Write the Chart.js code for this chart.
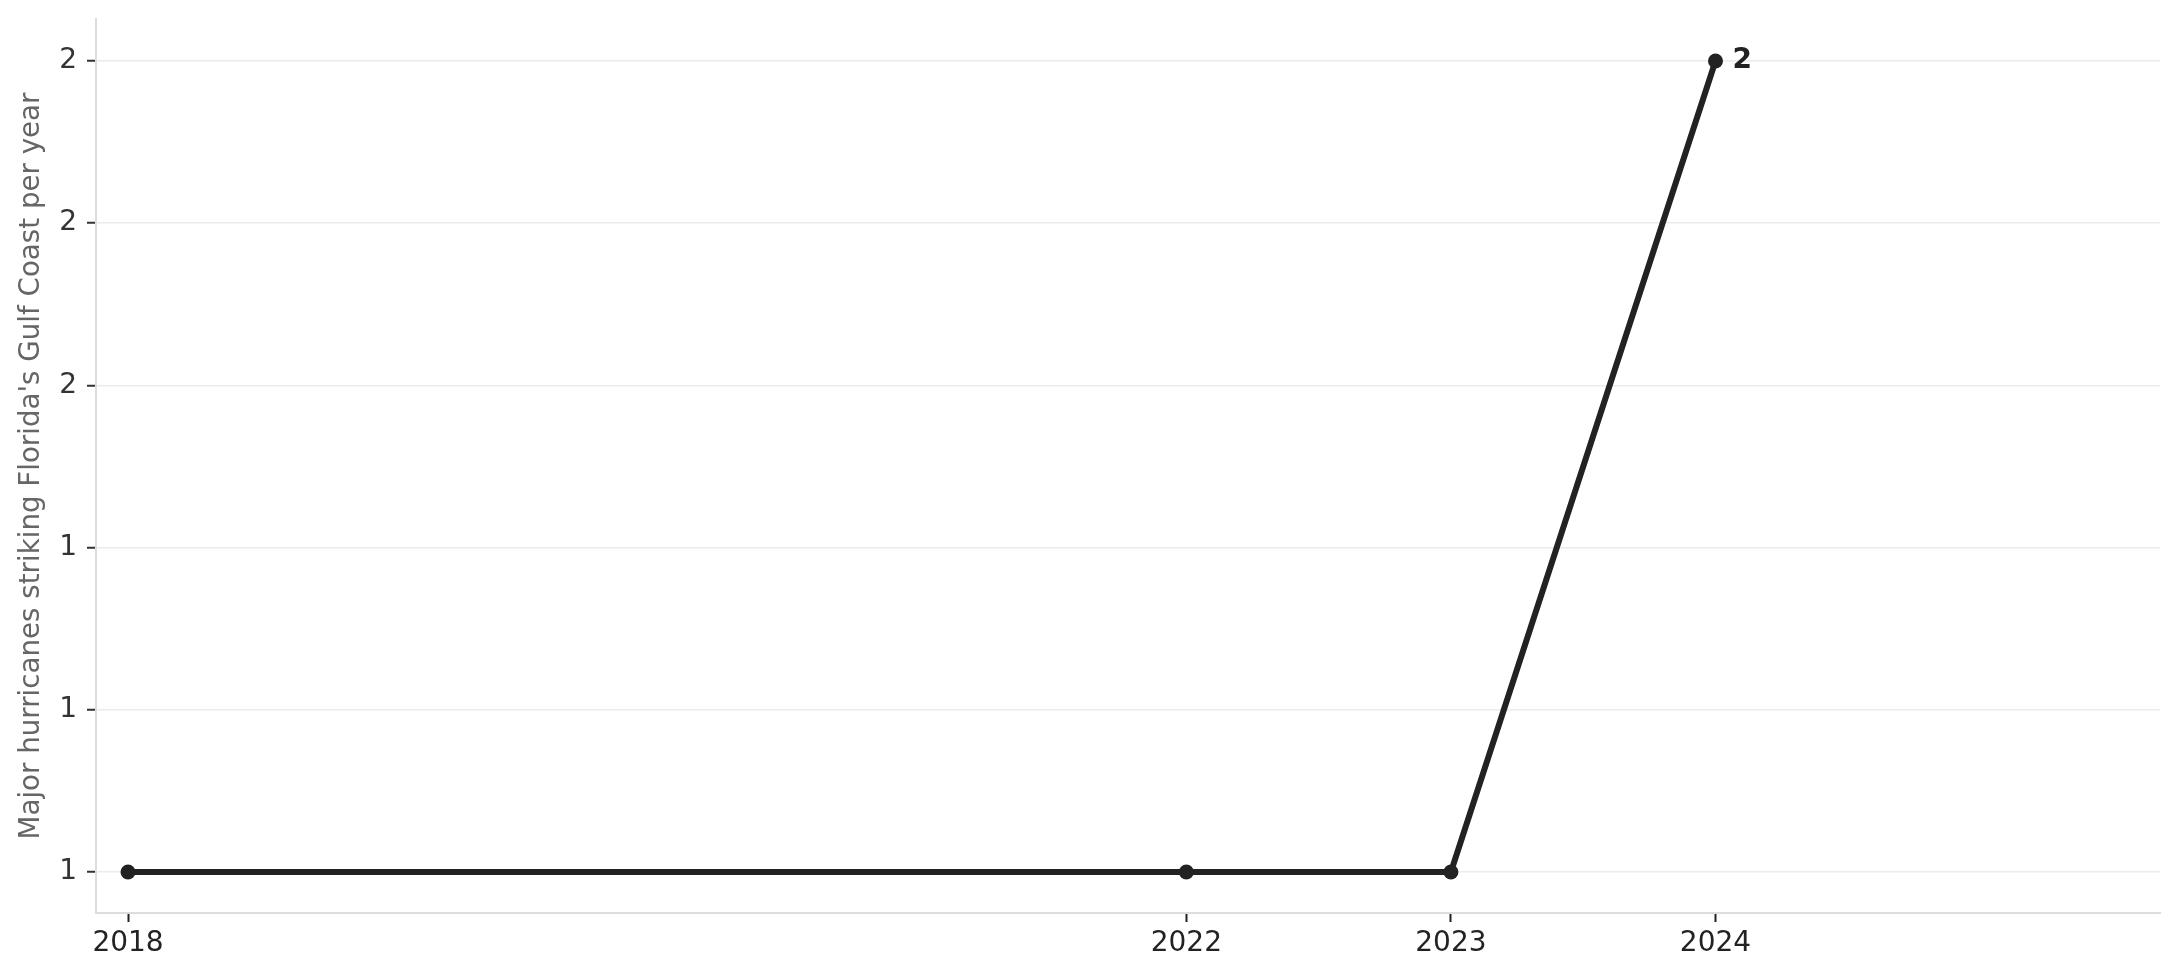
<!DOCTYPE html>
<html>
<head>
<meta charset="utf-8">
<script src="https://cdn.jsdelivr.net/npm/chart.js@4/dist/chart.umd.min.js"></script>
<style>
html,body{margin:0;padding:0;background:#fff;}
#wrap{width:2179px;height:980px;position:relative;}
</style>
</head>
<body>
<div id="wrap"><canvas id="c" width="2179" height="980"></canvas></div>
<script>
const years = [2018, 2022, 2023, 2024];
const hurricanes = [1, 1, 1, 2];
const xTickValues = [2018, 2022, 2023, 2024];
const yTickValues = [1, 1.2, 1.4, 1.6, 1.8, 2];
const yAxisTitle = "Major hurricanes striking Florida's Gulf Coast per year";
const labelledIndex = 3;

const FONT = "'DejaVu Sans', sans-serif";

const endLabel = {
  id: 'endLabel',
  afterDatasetsDraw(chart) {
    const meta = chart.getDatasetMeta(0);
    const pt = meta.data[labelledIndex];
    const ctx = chart.ctx;
    ctx.save();
    ctx.font = "bold 28px " + FONT;
    ctx.fillStyle = '#222222';
    ctx.textAlign = 'left';
    ctx.textBaseline = 'middle';
    ctx.fillText(String(hurricanes[labelledIndex]), pt.x + 17, pt.y);
    ctx.restore();
  }
};

function noPad(scale) {
  scale.paddingTop = 0; scale.paddingBottom = 0;
  scale.paddingLeft = 0; scale.paddingRight = 0;
}

new Chart(document.getElementById('c'), {
  type: 'line',
  data: {
    datasets: [{
      data: years.map((y, i) => ({x: y, y: hurricanes[i]})),
      borderColor: '#222222',
      backgroundColor: '#222222',
      borderWidth: 6,
      pointRadius: 7.5,
      pointHoverRadius: 7.5,
      pointBackgroundColor: '#222222',
      pointBorderWidth: 0,
      tension: 0,
      clip: false
    }]
  },
  options: {
    responsive: false,
    animation: false,
    devicePixelRatio: 1,
    layout: {padding: {left: 0, right: 19, top: 19, bottom: 0}},
    plugins: {legend: {display: false}, tooltip: {enabled: false}},
    scales: {
      x: {
        type: 'linear',
        min: 2017.879,
        max: 2025.68,
        afterBuildTicks(scale) { scale.ticks = xTickValues.map(v => ({value: v})); },
        afterFit(scale) { scale.height = 67; noPad(scale); },
        grid: {drawOnChartArea: false, drawTicks: true, tickLength: 9, tickColor: '#222222', tickWidth: 2},
        border: {display: true, color: '#dddddd', width: 2},
        ticks: {
          color: '#222222',
          font: {family: FONT, size: 28},
          padding: 5,
          maxRotation: 0,
          autoSkip: false,
          callback: v => String(v)
        }
      },
      y: {
        type: 'linear',
        min: 0.9494,
        max: 2.0518,
        afterBuildTicks(scale) { scale.ticks = yTickValues.map(v => ({value: v})); },
        afterFit(scale) { scale.width = 96; noPad(scale); },
        grid: {color: '#ebebeb', lineWidth: 1.5, drawTicks: true, tickLength: 9, tickColor: '#333333', tickWidth: 2},
        border: {display: true, color: '#dddddd', width: 2},
        title: {
          display: true,
          text: yAxisTitle,
          color: '#666666',
          font: {family: FONT, size: 27.7},
          padding: {top: 15, bottom: 0}
        },
        ticks: {
          color: '#333333',
          font: {family: FONT, size: 28},
          padding: 10,
          autoSkip: false,
          callback: v => String(Math.round(v))
        }
      }
    }
  },
  plugins: [endLabel]
});
</script>
</body>
</html>
